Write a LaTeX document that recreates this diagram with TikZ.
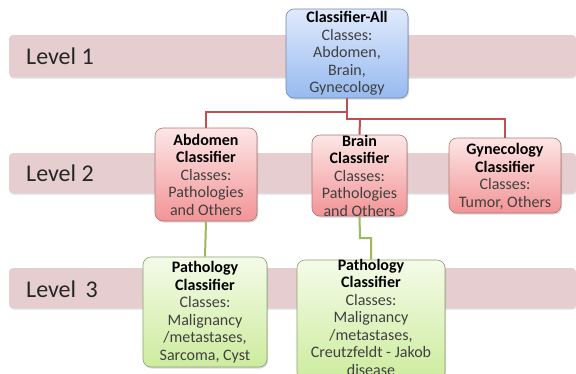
\documentclass[tikz,border=0pt]{standalone}
\usepackage{fontspec}
\setmainfont{Carlito}
\usetikzlibrary{shadows}
\definecolor{bandfill}{RGB}{230,206,208}
\definecolor{blueTop}{RGB}{224,234,252}
\definecolor{blueBot}{RGB}{150,186,240}
\definecolor{blueEdge}{RGB}{120,135,165}
\definecolor{redTop}{RGB}{253,230,230}
\definecolor{redBot}{RGB}{242,148,150}
\definecolor{redEdge}{RGB}{175,120,120}
\definecolor{greenTop}{RGB}{244,251,232}
\definecolor{greenBot}{RGB}{205,236,158}
\definecolor{greenEdge}{RGB}{140,160,120}
\definecolor{redline}{RGB}{192,80,77}
\definecolor{greenline}{RGB}{155,187,89}
\definecolor{bodytext}{RGB}{64,64,64}
\begin{document}
\begin{tikzpicture}[x=1pt,y=-1pt,
  band/.style={fill=bandfill, draw=none, rounded corners=4pt,
    drop shadow={shadow xshift=0.5pt, shadow yshift=-1.5pt, opacity=0.25}},
  leveltext/.style={anchor=west, inner sep=0pt, font=\fontsize{24}{28}\selectfont, text=black!85},
  box/.style={draw=#1Edge, rounded corners=8pt, line width=0.6pt,
    top color=#1Top, bottom color=#1Bot, inner sep=0pt,
    drop shadow={shadow xshift=1pt, shadow yshift=-1.5pt, opacity=0.3}},
  boxtext/.style={align=center, inner sep=0pt, text=bodytext,
    font=\fontsize{16}{17.5}\selectfont},
  redconn/.style={draw=redline, line width=2pt},
  greenconn/.style={draw=greenline, line width=2pt}
]
\useasboundingbox (0,0) rectangle (576,373);
\fill[white] (0,0) rectangle (576,373);

% level bands
\path[band] (9,35) rectangle (576,77);
\path[band] (9,153) rectangle (576,193);
\path[band] (9,268) rectangle (576,308);
\node[leveltext] (lv1) at (26,56) {Level 1};
\node[leveltext] (lv2) at (26,173) {Level 2};
\node[leveltext] (lv3) at (26,289) {Level\, 3};

% connector junctions
\coordinate (j1) at (347,112);
\coordinate (j2) at (347,119);
\coordinate (jb) at (360,119);
\coordinate (g1) at (360,238);
\coordinate (g2) at (371,238);

% boxes
\node[box=blue, minimum width=122pt, minimum height=89pt] (all) at (347,53.5) {};
\node[box=red, minimum width=102pt, minimum height=93pt] (abd) at (206,174.5) {};
\node[box=red, minimum width=95pt, minimum height=81pt] (brain) at (359.5,175.5) {};
\node[box=red, minimum width=112pt, minimum height=75pt] (gyn) at (505,175.5) {};
\node[box=green, minimum width=124pt, minimum height=110pt] (pathL) at (205,312) {};
\node[box=green, minimum width=148pt, minimum height=120pt] (pathR) at (371,320) {};

% connectors
\draw[redconn] (all.south) -- (j1) -| (abd.north);
\draw[redconn] (j1) -- (j2) -| (gyn.north);
\draw[redconn] (jb) -- (brain.north);
\draw[greenconn] (abd.south) -- (pathL.north);
\draw[greenconn] (brain.south) -- (g1) -- (g2) -- (pathR.north);

% texts
\node[boxtext] (allT) at (all.center) {\textcolor{black}{\bfseries Classifier-All}\\Classes:\\Abdomen,\\Brain,\\Gynecology};
\node[boxtext] (abdT) at (abd.center) {\textcolor{black}{\bfseries Abdomen}\\\textcolor{black}{\bfseries Classifier}\\Classes:\\Pathologies\\and Others};
\node[boxtext] (brainT) at (brain.center) {\textcolor{black}{\bfseries Brain}\\\textcolor{black}{\bfseries Classifier}\\Classes:\\Pathologies\\and Others};
\node[boxtext] (gynT) at ([yshift=-1pt]gyn.center) {\textcolor{black}{\bfseries Gynecology}\\\textcolor{black}{\bfseries Classifier}\\Classes:\\Tumor, Others};
\node[boxtext] (pathLT) at (pathL.center) {\textcolor{black}{\bfseries Pathology}\\\textcolor{black}{\bfseries Classifier}\\Classes:\\Malignancy\\/metastases,\\Sarcoma, Cyst};
\node[boxtext] (pathRT) at (371,317) {\textcolor{black}{\bfseries Pathology}\\\textcolor{black}{\bfseries Classifier}\\Classes:\\Malignancy\\/metastases,\\Creutzfeldt - Jakob\\disease};
\end{tikzpicture}
\end{document}
